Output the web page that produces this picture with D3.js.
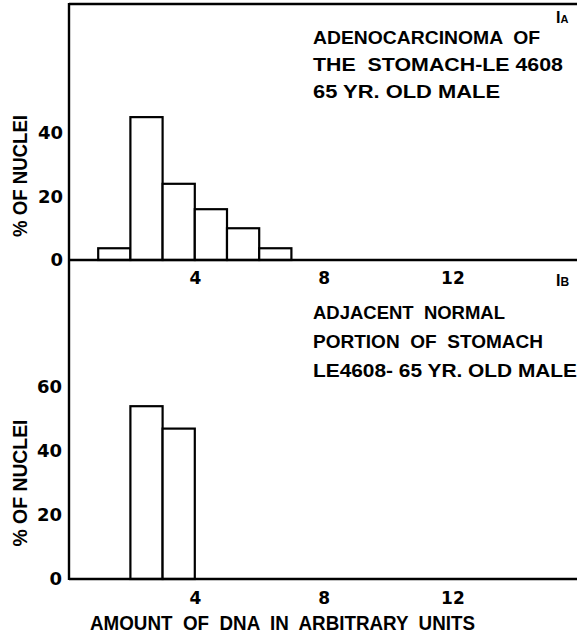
<!DOCTYPE html>
<html><head><meta charset="utf-8">
<script src="https://cdn.jsdelivr.net/npm/d3@7"></script>
<style>
html,body{margin:0;padding:0;background:#fff;}
svg{display:block;}
text{font-family:"Liberation Sans Narrow","Arial Narrow","Liberation Sans",Arial,sans-serif;font-weight:bold;fill:#000;}
text.num{font-family:"DejaVu Sans","Liberation Sans",sans-serif;}
</style></head>
<body>
<script>
// ---- data ----
const xTicks = [4, 8, 12];
const tumorBinStarts = [1, 2, 3, 4, 5, 6];
const tumorValues = [3.7, 45, 24, 16, 10, 3.7];
const tumorYTicks = [0, 20, 40];
const normalBinStarts = [2, 3];
const normalValues = [54, 47];
const normalYTicks = [0, 20, 40, 60];
const tumorTitle = ["ADENOCARCINOMA  OF", "THE  STOMACH-LE 4608", "65 YR. OLD MALE"];
const normalTitle = ["ADJACENT  NORMAL", "PORTION  OF  STOMACH", "LE4608- 65 YR. OLD MALE"];
const xLabel = "AMOUNT  OF  DNA  IN  ARBITRARY  UNITS";
const yLabel = "% OF NUCLEI";

const W = 577, H = 635;
const svg = d3.select("body").append("svg").attr("width", W).attr("height", H);

const axisLeftX = 69;
const x = d3.scaleLinear().domain([0, 16]).range([66, 66 + 16 * 32.2]);

function panel(opts) {
  const g = svg.append("g");
  const y = d3.scaleLinear().domain([0, opts.yMax]).range([opts.y0, opts.y0 - opts.yMax * opts.pxPerUnit]);

  // bars
  g.selectAll("rect.bar").data(opts.starts.map((s, i) => ({s, v: opts.values[i]})))
    .enter().append("rect")
    .attr("x", d => x(d.s))
    .attr("y", d => y(d.v))
    .attr("width", d => x(d.s + 1) - x(d.s))
    .attr("height", d => y(0) - y(d.v))
    .attr("fill", "#fff").attr("stroke", "#000").attr("stroke-width", 2.2);

  // baseline
  g.append("line").attr("x1", axisLeftX).attr("x2", W).attr("y1", y(0)).attr("y2", y(0))
    .attr("stroke", "#000").attr("stroke-width", 2.4);

  // x axis tick labels
  const xa = d3.axisBottom(x).tickValues(xTicks).tickSize(0).tickPadding(opts.xPad).tickFormat(d3.format("d"));
  const xg = g.append("g").attr("transform", `translate(0,${y(0)})`).call(xa);
  xg.select(".domain").remove();
  xg.attr("font-family", null).attr("font-size", null);
  xg.selectAll("text").attr("class", "num").attr("font-size", 17);

  // y axis tick labels
  const ya = d3.axisLeft(y).tickValues(opts.yTicks).tickSize(0).tickPadding(axisLeftX - opts.yLabelRight).tickFormat(d3.format("d"));
  const yg = g.append("g").attr("transform", `translate(${axisLeftX},0)`).call(ya);
  yg.select(".domain").remove();
  yg.attr("font-family", null).attr("font-size", null);
  yg.selectAll("text").attr("class", "num").attr("font-size", 18);

  // y label
  g.append("text").attr("transform", `translate(${opts.yLabelX},${opts.yLabelY}) rotate(-90)`)
    .attr("text-anchor", "middle").attr("font-size", 20)
    .attr("textLength", opts.yLabelLen).attr("lengthAdjust", "spacingAndGlyphs")
    .text(yLabel);

  // title lines
  opts.title.forEach((t, i) => {
    g.append("text").attr("x", 313).attr("y", opts.titleY[i]).attr("font-size", 19)
      .attr("textLength", opts.titleLen[i]).attr("lengthAdjust", "spacingAndGlyphs")
      .style("white-space", "pre").text(t);
  });

  // panel tag
  const tag = g.append("text").attr("x", 556).attr("y", opts.tagY).attr("font-size", 16);
  tag.append("tspan").text("I");
  tag.append("tspan").attr("font-size", opts.tagSubSize).text(opts.tagSub);
  return y;
}

panel({
  y0: 260, pxPerUnit: 3.175, yMax: 80,
  starts: tumorBinStarts, values: tumorValues, yTicks: tumorYTicks,
  yLabelRight: 63, yLabelX: 27, yLabelY: 176, yLabelLen: 122,
  title: tumorTitle, titleY: [44, 71, 98], titleLen: [227, 250, 187],
  tagY: 23, tagSub: "A", tagSubSize: 11, xPad: 12
});

panel({
  y0: 579, pxPerUnit: 3.2, yMax: 90,
  starts: normalBinStarts, values: normalValues, yTicks: normalYTicks,
  yLabelRight: 62, yLabelX: 27, yLabelY: 483, yLabelLen: 127,
  title: normalTitle, titleY: [319, 348, 377], titleLen: [192, 230, 264],
  tagY: 286, tagSub: "B", tagSubSize: 12, xPad: 13
});

// top frame line and continuous left axis
svg.append("line").attr("x1", axisLeftX).attr("x2", W).attr("y1", 4).attr("y2", 4)
  .attr("stroke", "#000").attr("stroke-width", 2.4);
svg.append("line").attr("x1", axisLeftX).attr("x2", axisLeftX).attr("y1", 3).attr("y2", 580)
  .attr("stroke", "#000").attr("stroke-width", 2.4);

// x axis title
svg.append("text").attr("x", 90).attr("y", 630).attr("font-size", 20)
  .attr("textLength", 385).attr("lengthAdjust", "spacingAndGlyphs")
  .style("white-space", "pre").text(xLabel);
</script>
</body></html>
